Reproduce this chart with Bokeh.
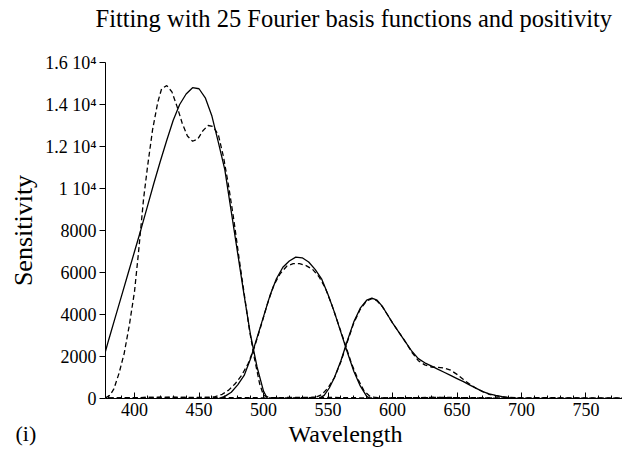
from bokeh.plotting import figure
from bokeh.models import FixedTicker, Range1d, Title
from bokeh.embed import file_html
from bokeh.resources import INLINE

# ---- data ----
wl_b_fit = [377.5, 380, 385, 390, 395, 400, 405, 410, 415, 420, 425, 430, 435, 440, 445, 450,
            455, 460, 465, 470, 475, 480, 485, 490, 495, 500, 503]
b_fit = [2250, 2800, 3850, 4900, 5950, 7000, 8050, 9150, 10250, 11300, 12300, 13250, 14000, 14500,
         14800, 14750, 14300, 13450, 12200, 10900, 8900, 6900, 4900, 3000, 1500, 350, 0]

wl_b_true = [377.5, 381, 384, 388, 392, 396, 400, 403, 407, 410, 414, 418, 421, 425, 429, 433, 437,
             441, 445, 449, 453, 457, 461, 465, 469, 473, 477, 481, 485, 489, 493, 497, 500, 505,
             540, 580, 640, 700, 778]
b_true = [30, 150, 460, 1200, 2150, 3500, 5100, 6900, 9500, 11000, 12800, 14100, 14750, 14900,
          14600, 13900, 13100, 12500, 12250, 12350, 12750, 13000, 12950, 12550, 11500, 10100, 8500,
          6700, 5000, 3300, 1900, 700, 150, 40, 60, 30, 50, 20, 20]

wl_g_fit = [465, 470, 475, 480, 485, 490, 495, 500, 505, 510, 515, 520, 525, 530, 535, 540, 545,
            550, 555, 560, 565, 570, 575, 580, 583]
g_fit = [0, 100, 300, 650, 1100, 1900, 2900, 3900, 4900, 5700, 6250, 6550, 6730, 6700, 6500, 6150,
         5700, 4950, 4100, 3150, 2200, 1300, 600, 100, 0]

wl_g_true = [380, 420, 450, 462, 468, 473, 478, 483, 488, 493, 498, 503, 508, 513, 518, 523, 528,
             533, 538, 543, 548, 553, 558, 563, 568, 573, 578, 583, 590, 630, 680, 778]
g_true = [20, 60, 40, 80, 200, 400, 700, 1100, 1650, 2450, 3450, 4500, 5400, 5950, 6300, 6420, 6420,
          6330, 6150, 5800, 5250, 4450, 3550, 2650, 1700, 950, 350, 80, 30, 50, 20, 20]

wl_r_fit = [543, 547, 551, 555, 560, 565, 570, 575, 580, 584, 588, 592, 596, 600, 605, 610, 615, 620,
            625, 630, 635, 640, 645, 650, 655, 660, 665, 670, 675, 680, 685, 690, 695, 700]
r_fit = [0, 150, 500, 1000, 1800, 2750, 3650, 4300, 4680, 4780, 4680, 4400, 4000, 3600, 3150, 2700,
         2250, 1900, 1700, 1550, 1400, 1250, 1100, 950, 800, 640, 480, 330, 220, 150, 90, 40, 10, 0]

wl_r_true = [380, 430, 470, 520, 540, 545, 550, 555, 560, 565, 570, 575, 580, 584, 588, 592, 596, 600,
             605, 610, 615, 620, 625, 630, 635, 640, 645, 650, 655, 660, 665, 670, 675, 680, 685, 690,
             700, 720, 750, 778]
r_true = [30, 60, 40, 30, 50, 180, 500, 1000, 1750, 2700, 3600, 4250, 4650, 4750, 4650, 4380, 4000,
          3600, 3150, 2700, 2200, 1800, 1600, 1500, 1480, 1450, 1350, 1150, 900, 680, 480, 330, 200,
          130, 80, 50, 30, 40, 20, 20]

x_ticks = [400, 450, 500, 550, 600, 650, 700, 750]
x_minor = [v for v in range(380, 780, 10)]
y_ticks = [0, 2000, 4000, 6000, 8000, 10000, 12000, 14000, 16000]
y_tick_labels = ["0", "2000", "4000", "6000", "8000", "1 10\u2074", "1.2 10\u2074", "1.4 10\u2074", "1.6 10\u2074"]

title_text = "Fitting with 25 Fourier basis functions and positivity"
x_label = "Wavelength"
y_label = "Sensitivity"
panel_tag = "(i)"

FONT = "Liberation Serif"

p = figure(width=622, height=457, output_backend="svg", toolbar_location=None,
           x_range=Range1d(377.5, 778.3), y_range=Range1d(0, 16000),
           min_border_left=105, min_border_right=0, min_border_top=62, min_border_bottom=59)
p.outline_line_color = None
p.grid.visible = False
p.background_fill_color = "white"
p.border_fill_color = "white"

p.title.text = title_text
p.title.text_font = FONT
p.title.text_font_size = "24.5px"
p.title.text_font_style = "normal"
p.title.text_color = "black"
p.title.align = "left"
p.title.offset = -10
p.title.standoff = 0
try:
    p.title.padding = dict(top=0, right=0, bottom=31, left=0)
except Exception:
    p.title.padding = (0, 0, 31, 0)

for wl, v in [(wl_b_fit, b_fit), (wl_g_fit, g_fit), (wl_r_fit, r_fit)]:
    p.line(wl, v, line_color="black", line_width=1.3)
for wl, v in [(wl_b_true, b_true), (wl_g_true, g_true), (wl_r_true, r_true)]:
    p.line(wl, v, line_color="black", line_width=1.3, line_dash="5 3")

xa = p.xaxis[0]
xa.ticker = FixedTicker(ticks=x_ticks, minor_ticks=x_minor)
xa.major_tick_in = 6
xa.major_tick_out = 0
xa.minor_tick_in = 3
xa.minor_tick_out = 0
xa.major_label_text_font = FONT
xa.major_label_text_font_size = "18px"
xa.major_label_text_color = "black"
xa.major_label_standoff = 4
xa.axis_line_color = "black"
xa.major_tick_line_color = "black"
xa.minor_tick_line_color = "black"

ya = p.yaxis[0]
ya.ticker = FixedTicker(ticks=y_ticks, minor_ticks=[])
ya.major_label_overrides = {t: s for t, s in zip(y_ticks, y_tick_labels)}
ya.major_tick_in = 0
ya.major_tick_out = 6
ya.minor_tick_in = 0
ya.minor_tick_out = 0
ya.major_label_text_font = FONT
ya.major_label_text_font_size = "18px"
ya.major_label_text_color = "black"
ya.major_label_standoff = 3
ya.axis_label = y_label
ya.axis_label_text_font = FONT
ya.axis_label_text_font_size = "26px"
ya.axis_label_text_font_style = "normal"
ya.axis_label_text_color = "black"
ya.axis_label_standoff = 4
ya.axis_line_color = "black"
ya.major_tick_line_color = "black"

# bottom texts as titles in the panel below the x axis
p.add_layout(Title(text=panel_tag, align="left", offset=-90, standoff=0,
                   text_font=FONT, text_font_size="22px", text_font_style="normal",
                   text_color="black"), "below")
p.add_layout(Title(text=x_label, align="left", offset=183, standoff=-49,
                   vertical_align="top",
                   text_font=FONT, text_font_size="24px", text_font_style="normal",
                   text_color="black"), "below")

open("out.html", "w").write(file_html(p, INLINE))
